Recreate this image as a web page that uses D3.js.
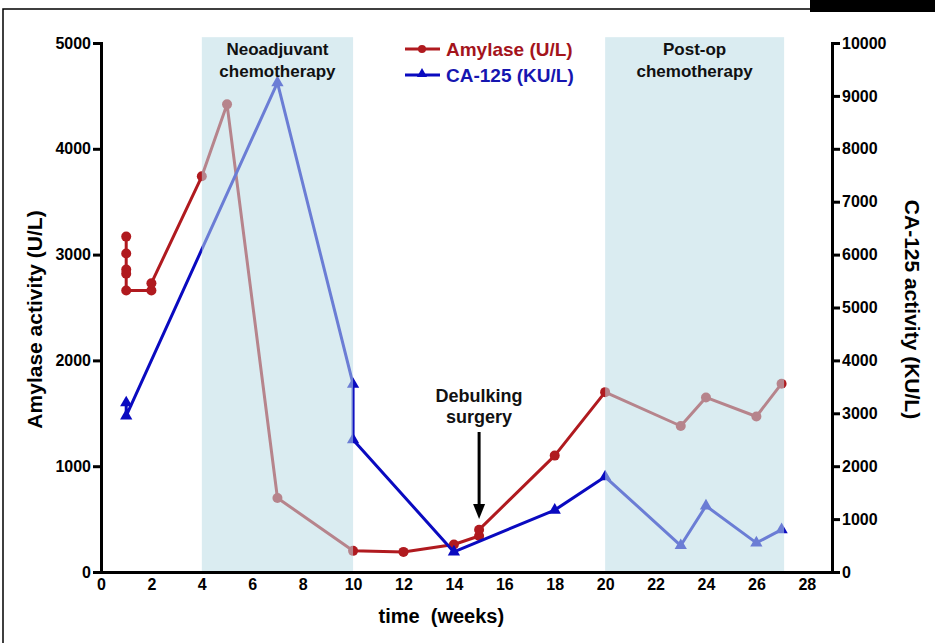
<!DOCTYPE html>
<html>
<head>
<meta charset="utf-8">
<title>Amylase and CA-125 over time</title>
<script src="https://d3js.org/d3.v7.min.js"></script>
<style>
body { margin: 0; background: #fff; }
svg { display: block; font-family: Arial, "Liberation Sans", Helvetica, sans-serif; }
.axis text { font-size: 16px; font-weight: bold; fill: #000; }
.axis path, .axis line { stroke: #000; stroke-width: 3px; }
</style>
</head>
<body>
<svg id="chart"></svg>
<script>
// amylase (left axis, U/L)
var amyWeeks  = [1, 1, 1, 1, 1, 2, 2, 4, 5, 7, 10, 12, 14, 15, 15, 18, 20, 23, 24, 26, 27];
var amyValues = [3170, 3010, 2860, 2820, 2660, 2660, 2730, 3740, 4420, 700, 200, 190, 260, 340, 400, 1100, 1700, 1380, 1650, 1470, 1780];

// CA-125 (right axis, KU/L)
var caWeeks  = [1, 1, 7, 10, 10, 14, 18, 20, 23, 24, 26, 27];
var caValues = [3200, 2950, 9250, 3550, 2500, 380, 1170, 1800, 500, 1250, 550, 800];

// treatment periods (weeks)
var periods = [
  { from: 4, to: 10, label: ["Neoadjuvant", "chemotherapy"] },
  { from: 20, to: 27.1, label: ["Post-op", "chemotherapy"] }
];

var xTicks = d3.range(0, 29, 2);
var leftTicks = d3.range(0, 5001, 1000);
var rightTicks = d3.range(0, 10001, 1000);

var width = 935, height = 643;
var margin = { top: 43, right: 103, bottom: 71, left: 101 };

var svg = d3.select('#chart').attr('width', width).attr('height', height);

// frame around the figure
svg.append('path')
  .attr('d', 'M3,643 L3,9 L935,9')
  .attr('fill', 'none').attr('stroke', '#000').attr('stroke-width', 1.5);
svg.append('rect').attr('x', 810).attr('y', 0).attr('width', 125).attr('height', 12).attr('fill', '#000');

var x = d3.scaleLinear().domain([0, 29]).range([margin.left, width - margin.right]);
var yL = d3.scaleLinear().domain([0, 5000]).range([height - margin.bottom, margin.top]);
var yR = d3.scaleLinear().domain([0, 10000]).range([height - margin.bottom, margin.top]);

var red = '#b01a1f', blue = '#0a0ac0';

// lines and markers
var amyData = amyWeeks.map(function (w, i) { return { x: w, y: amyValues[i] }; });
var caData = caWeeks.map(function (w, i) { return { x: w, y: caValues[i] }; });

svg.append('path').datum(amyData)
  .attr('fill', 'none').attr('stroke', red).attr('stroke-width', 3).attr('stroke-linejoin', 'round')
  .attr('d', d3.line().x(function (d) { return x(d.x); }).y(function (d) { return yL(d.y); }));
svg.selectAll('circle.amy').data(amyData).enter().append('circle')
  .attr('class', 'amy')
  .attr('cx', function (d) { return x(d.x); })
  .attr('cy', function (d) { return yL(d.y); })
  .attr('r', 5).attr('fill', red);

svg.append('path').datum(caData)
  .attr('fill', 'none').attr('stroke', blue).attr('stroke-width', 3).attr('stroke-linejoin', 'round')
  .attr('d', d3.line().x(function (d) { return x(d.x); }).y(function (d) { return yR(d.y); }));
var tri = d3.symbol().type(d3.symbolTriangle).size(65);
svg.selectAll('path.ca').data(caData).enter().append('path')
  .attr('class', 'ca')
  .attr('d', tri)
  .attr('transform', function (d) { return 'translate(' + x(d.x) + ',' + yR(d.y) + ')'; })
  .attr('fill', blue);

// shaded periods drawn over the lines (translucent)
svg.selectAll('rect.period').data(periods).enter().append('rect')
  .attr('class', 'period')
  .attr('x', function (d) { return x(d.from); })
  .attr('width', function (d) { return x(d.to) - x(d.from); })
  .attr('y', yL(5055))
  .attr('height', yL(0) - yL(5055))
  .attr('fill', '#bcdde5').attr('opacity', 0.55);

periods.forEach(function (p) {
  var t = svg.append('text')
    .attr('x', x((p.from + p.to) / 2)).attr('y', 55)
    .attr('text-anchor', 'middle').attr('font-size', 17).attr('font-weight', 'bold').attr('fill', '#111');
  p.label.forEach(function (l, i) {
    t.append('tspan').attr('x', x((p.from + p.to) / 2)).attr('dy', i ? 22 : 0).text(l);
  });
});

// axes
var fmt = d3.format('d');
svg.append('g').attr('class', 'axis')
  .attr('transform', 'translate(0,' + yL(0) + ')')
  .call(d3.axisBottom(x).tickValues(xTicks).tickFormat(fmt).tickSize(0).tickPadding(7).tickSizeOuter(0));

svg.append('g').attr('class', 'axis')
  .attr('transform', 'translate(' + x(0) + ',0)')
  .call(d3.axisLeft(yL).tickValues(leftTicks).tickFormat(fmt).tickSize(8).tickPadding(2).tickSizeOuter(0));

svg.append('g').attr('class', 'axis')
  .attr('transform', 'translate(' + x(29) + ',0)')
  .call(d3.axisRight(yR).tickValues(rightTicks).tickFormat(fmt).tickSize(8).tickPadding(2).tickSizeOuter(0));

svg.selectAll('.axis path.domain').attr('stroke-linecap', 'square');

// axis titles
svg.append('text')
  .attr('transform', 'translate(42,' + (yL(2500) + 12) + ') rotate(-90)')
  .attr('text-anchor', 'middle').attr('font-size', 21).attr('font-weight', 'bold')
  .text('Amylase activity (U/L)');
svg.append('text')
  .attr('transform', 'translate(905,' + (yL(2500) + 2) + ') rotate(90)')
  .attr('text-anchor', 'middle').attr('font-size', 21).attr('font-weight', 'bold')
  .text('CA-125 activity (KU/L)');
svg.append('text')
  .attr('x', x(13.5)).attr('y', 623)
  .attr('text-anchor', 'middle').attr('font-size', 20).attr('font-weight', 'bold')
  .attr('xml:space', 'preserve')
  .text('time  (weeks)');

// debulking surgery annotation
var ax = x(15);
var ann = svg.append('text').attr('x', ax).attr('y', 402)
  .attr('text-anchor', 'middle').attr('font-size', 18).attr('font-weight', 'bold').attr('fill', '#111');
ann.append('tspan').attr('x', ax).text('Debulking');
ann.append('tspan').attr('x', ax).attr('dy', 21).text('surgery');
svg.append('line').attr('x1', ax).attr('x2', ax).attr('y1', 432).attr('y2', 506)
  .attr('stroke', '#000').attr('stroke-width', 3);
svg.append('path')
  .attr('d', 'M' + (ax - 6) + ',504 L' + (ax + 6) + ',504 L' + ax + ',519 Z')
  .attr('fill', '#000');

// legend
var legend = [
  { name: 'Amylase (U/L)', color: red, text: '#a4141c', mark: 'circle' },
  { name: 'CA-125 (KU/L)', color: blue, text: '#1616b0', mark: 'tri' }
];
legend.forEach(function (d, i) {
  var ly = 49 + i * 26;
  svg.append('line').attr('x1', 405).attr('x2', 440).attr('y1', ly).attr('y2', ly)
    .attr('stroke', d.color).attr('stroke-width', 3);
  if (d.mark === 'circle') {
    svg.append('circle').attr('cx', 422).attr('cy', ly).attr('r', 4).attr('fill', d.color);
  } else {
    svg.append('path').attr('d', d3.symbol().type(d3.symbolTriangle).size(45))
      .attr('transform', 'translate(422,' + (ly - 1) + ')').attr('fill', d.color);
  }
  svg.append('text').attr('x', 446).attr('y', ly + 7)
    .attr('font-size', 19).attr('font-weight', 'bold').attr('fill', d.text)
    .text(d.name);
});
</script>
</body>
</html>
